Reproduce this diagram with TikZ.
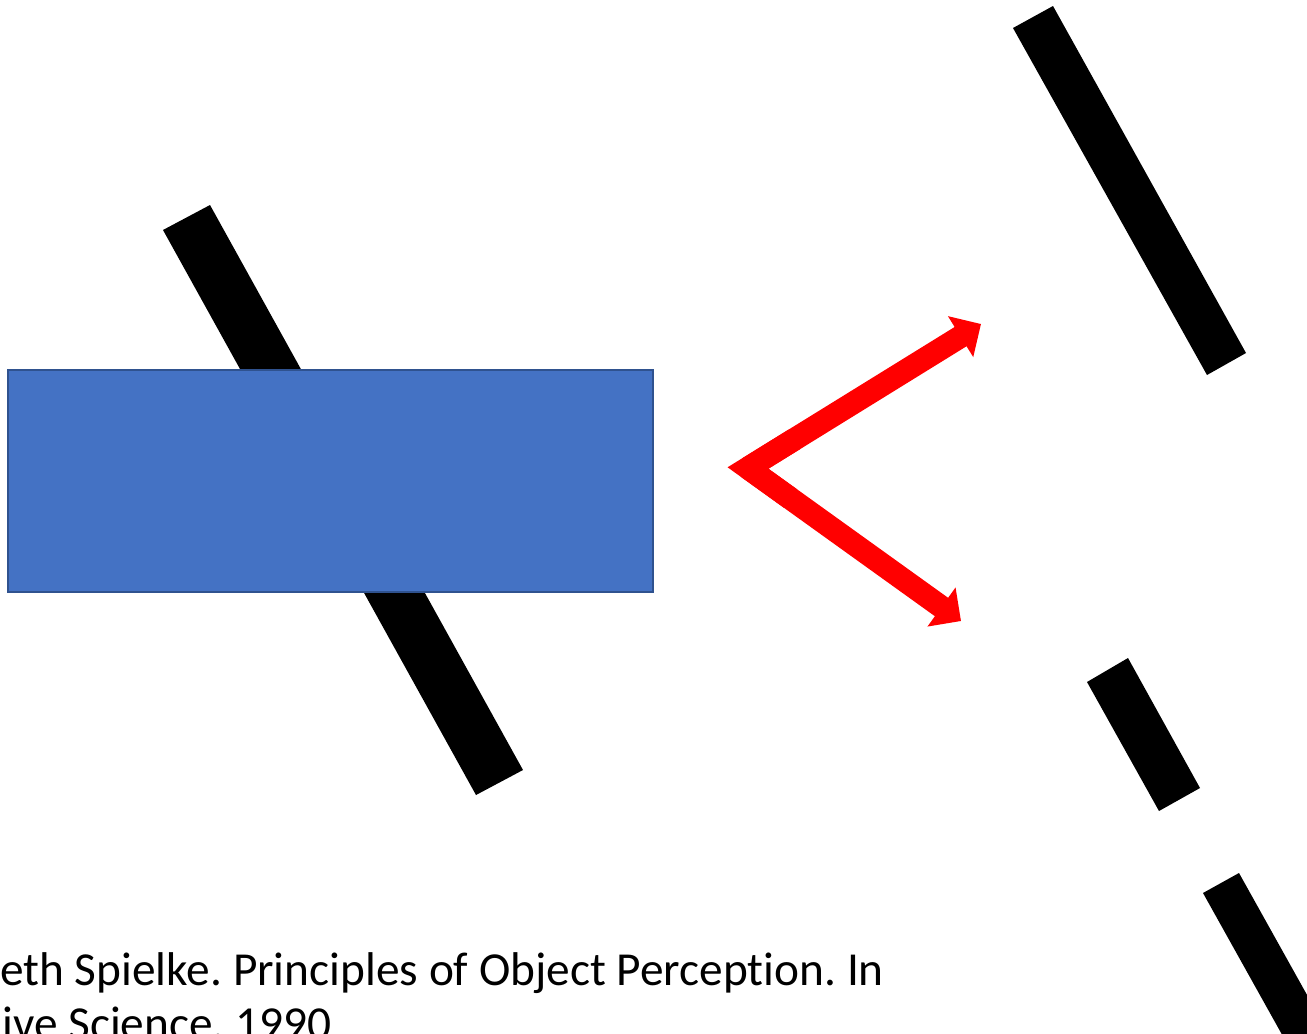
\documentclass[tikz,border=0pt]{standalone}
\usepackage{fontspec}
\setmainfont[Ligatures=NoCommon]{Carlito}
\usetikzlibrary{arrows.meta,calc}
\definecolor{boxblue}{HTML}{4472C4}
\definecolor{boxedge}{HTML}{2F528F}
\definecolor{arrred}{HTML}{FF0000}
\frenchspacing
\begin{document}
\begin{tikzpicture}[x=0.75pt,y=-0.75pt,
  bar/.style={fill=black},
  occluder/.style={fill=boxblue,draw=boxedge,line width=1.4pt},
  redline/.style={draw=arrred,line width=17pt,miter limit=10,line join=miter},
  redarrow/.style={redline,-{Triangle[length=18pt,width=35pt]}},
  cite/.style={font=\fontsize{35.5}{41}\selectfont,anchor=base west,inner sep=0pt}]
\useasboundingbox (0,0) rectangle (1307,1033);
\clip (0,0) rectangle (1307,1033);
\fill[white] (0,0) rectangle (1307,1033);
% left bar behind the box
\fill[bar] (163,230) -- (210,205) -- (523,770) -- (476,795) -- cycle;
% occluding box
\filldraw[occluder] (8,370) rectangle (653,592);
% right bars
\fill[bar] (1013,28) -- (1053,6) -- (1246,353) -- (1207,375) -- cycle;
\fill[bar] (1087,682) -- (1128,658) -- (1200,788) -- (1159,811) -- cycle;
\fill[bar] (1203,893) -- (1239,873) -- (1345,1063) -- (1309,1083) -- cycle;
% red arrows
\coordinate (v) at (748,468);
\coordinate (t1) at (981,324);
\coordinate (t2) at (961,621);
\draw[redarrow] (v) -- (t1);
\draw[redarrow] (v) -- (t2);
\draw[redline] ($(v)!0.2!(t1)$) -- (v) -- ($(v)!0.2!(t2)$);
% citation
\node[cite] (cite1) at (0,985) {eth Spielke. Principles of Object Perception. In};
\node[cite] (cite2) at (2,1039) {ive Science. 1990};
\end{tikzpicture}
\end{document}
